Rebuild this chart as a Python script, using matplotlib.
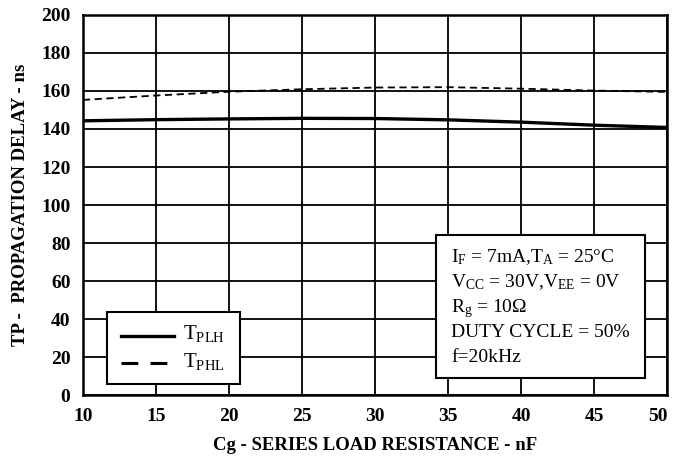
import numpy as np
import matplotlib.pyplot as plt
from matplotlib.patches import Rectangle

plt.rcParams['font.family'] = ['Liberation Serif', 'DejaVu Serif']
plt.rcParams['mathtext.fontset'] = 'custom'
plt.rcParams['mathtext.rm'] = 'Liberation Serif'
plt.rcParams['mathtext.it'] = 'Liberation Serif'

# data
cg = [10, 15, 20, 25, 30, 35, 40, 45, 50]
tplh = [144.3, 144.9, 145.3, 145.6, 145.5, 144.8, 143.6, 142.0, 140.8]
tphl = [155.3, 157.6, 159.6, 160.9, 161.8, 162.0, 161.2, 160.2, 159.5]

cond_lines = [r'$\mathrm{I_F}$ = 7mA,$\mathrm{T_A}$ = 25°C',
              r'$\mathrm{V_{CC}}$ = 30V,$\mathrm{V_{EE}}$ = 0V',
              r'$\mathrm{R_g}$ = 10Ω',
              'DUTY CYCLE = 50%',
              'f=20kHz']

fig = plt.figure(figsize=(6.74, 4.66), dpi=100)
ax = fig.add_axes([0.123, 0.152, 0.867, 0.816])

ax.plot(cg, tplh, color='black', lw=2.4, solid_capstyle='butt')
ax.plot(cg, tphl, color='black', lw=1.3, ls=(0, (4, 2.5)))

ax.set_xlim(10, 50)
ax.set_ylim(0, 200)
ax.set_xticks(np.arange(10, 51, 5))
ax.set_yticks(np.arange(0, 201, 20))
ax.grid(True, color='black', lw=1.3)
for s in ax.spines.values():
    s.set_linewidth(1.8)
ax.tick_params(direction='in', length=0, labelsize=14)
ax.tick_params(axis='x', pad=9)
ax.tick_params(axis='y', pad=9)
for lab in ax.get_xticklabels() + ax.get_yticklabels():
    lab.set_fontweight('bold')
ax.get_xticklabels()[-1].set_horizontalalignment('right')

ax.set_xlabel('Cg - SERIES LOAD RESISTANCE - nF', fontsize=13.5, fontweight='bold', labelpad=9)
ax.set_ylabel('TP -  PROPAGATION DELAY - ns', fontsize=13.5, fontweight='bold', labelpad=9)

# legend box
ax.add_patch(Rectangle((11.62, 5.8), 9.1, 38.0, facecolor='white', edgecolor='black',
                       lw=1.5, zorder=5))
ax.plot([12.58, 16.23], [31.2, 31.2], color='black', lw=2.4, zorder=6)
ax.plot([12.58, 16.23], [17, 17], color='black', lw=2.2, ls=(0, (5.5, 4)), zorder=6)
ax.text(16.87, 29.3, r'$\mathrm{T_{PLH}}$', fontsize=15, va='baseline', zorder=6)
ax.text(16.87, 14.7, r'$\mathrm{T_{PHL}}$', fontsize=15, va='baseline', zorder=6)

# conditions box
ax.add_patch(Rectangle((34.18, 8.8), 14.31, 75.4, facecolor='white',
                       edgecolor='black', lw=1.5, zorder=5))
for i, t in enumerate(cond_lines):
    ax.text(35.2, 69.8 - i * 13.1, t, fontsize=14, va='baseline', zorder=6)

fig.savefig('out.png', dpi=100)
